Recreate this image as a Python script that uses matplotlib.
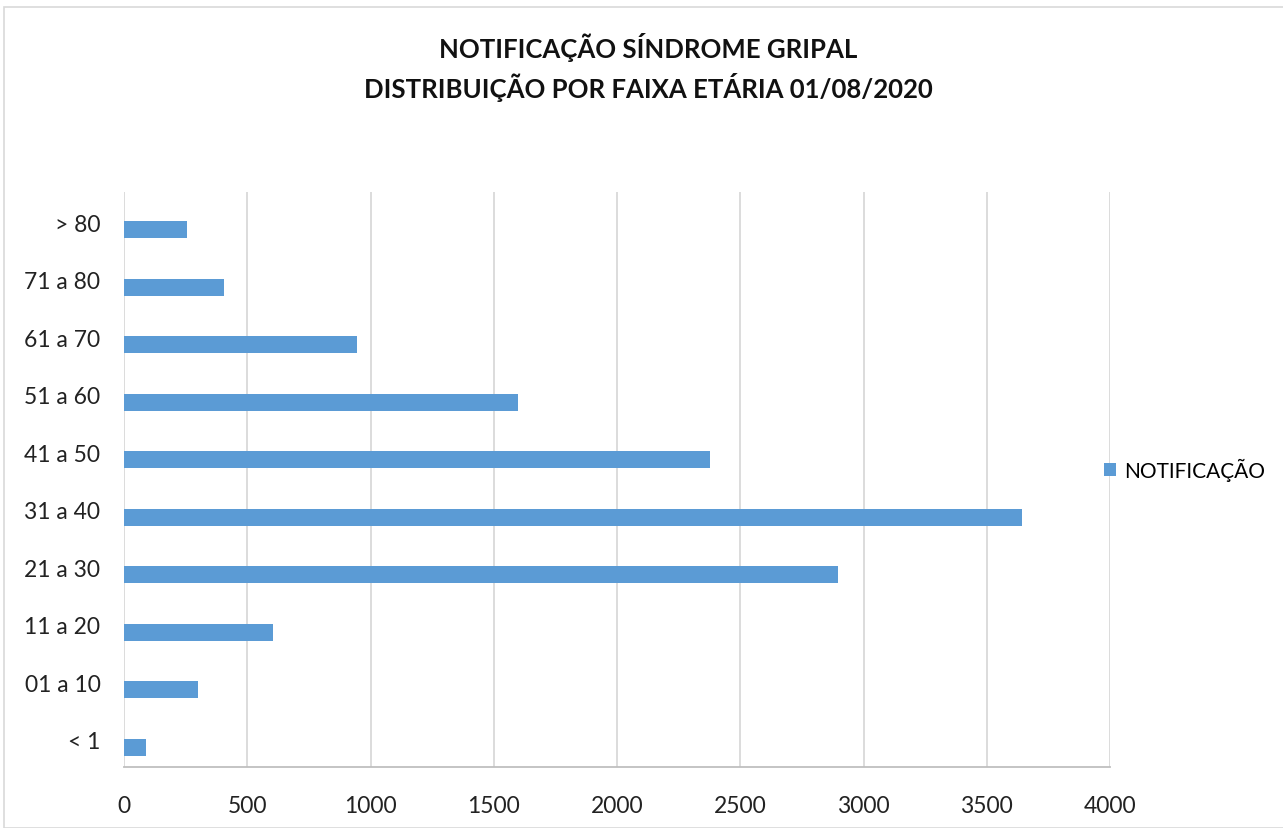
import numpy as np
import matplotlib.pyplot as plt
from matplotlib.patches import Rectangle

plt.rcParams['font.family'] = ['Lato', 'DejaVu Sans']

faixas = ['< 1', '01 a 10', '11 a 20', '21 a 30', '31 a 40',
          '41 a 50', '51 a 60', '61 a 70', '71 a 80', '> 80']
notificacoes = [89, 300, 604, 2896, 3643, 2377, 1598, 945, 405, 256]
xticks = [0, 500, 1000, 1500, 2000, 2500, 3000, 3500, 4000]

W, H = 1283, 829
fig = plt.figure(figsize=(W / 100, H / 100), dpi=100)

# moldura do gráfico
fig.patches.append(Rectangle((4 / W, 0), 1.2, 1 - 8 / H, transform=fig.transFigure,
                             fill=False, edgecolor='#d9d9d9', linewidth=1.2))

ax = fig.add_axes([124 / W, 1 - 768 / H, (1110 - 124) / W, (768 - 193) / H])
pos = np.arange(len(faixas))
# no Excel as barras ficam um pouco abaixo do centro da categoria
ax.barh(pos - 0.155, notificacoes, height=0.29, color='#5B9BD5', label='NOTIFICAÇÃO', zorder=3)

ax.set_xlim(0, 4000)
ax.set_ylim(-0.5, len(faixas) - 0.5)
ax.set_xticks(xticks)
ax.set_xticklabels([str(v) for v in xticks])
ax.set_yticks(pos - 0.03)
ax.set_yticklabels(faixas)
ax.tick_params(axis='both', length=0, labelsize=16.5, colors='#222222')
ax.tick_params(axis='x', pad=20)
ax.tick_params(axis='y', pad=17)
ax.grid(axis='x', color='#d9d9d9', linewidth=1.3, zorder=0)
for s in ['top', 'right', 'left']:
    ax.spines[s].set_visible(False)
ax.spines['bottom'].set_color('#bfbfbf')
ax.spines['bottom'].set_linewidth(1.3)

fig.text(648 / W, 1 - 47 / H, 'NOTIFICAÇÃO SÍNDROME GRIPAL', ha='center', va='center',
         fontsize=18.5, fontweight='bold', color='#111111')
fig.text(648 / W, 1 - 87 / H, 'DISTRIBUIÇÃO POR FAIXA ETÁRIA 01/08/2020', ha='center', va='center',
         fontsize=18.5, fontweight='bold', color='#111111')

ax.legend(loc='center left', bbox_to_anchor=(1085 / W, 1 - 470 / H), bbox_transform=fig.transFigure,
          frameon=False, fontsize=15, handlelength=0.6, handleheight=0.6, handletextpad=0.4)

fig.savefig('out.png', dpi=100)
